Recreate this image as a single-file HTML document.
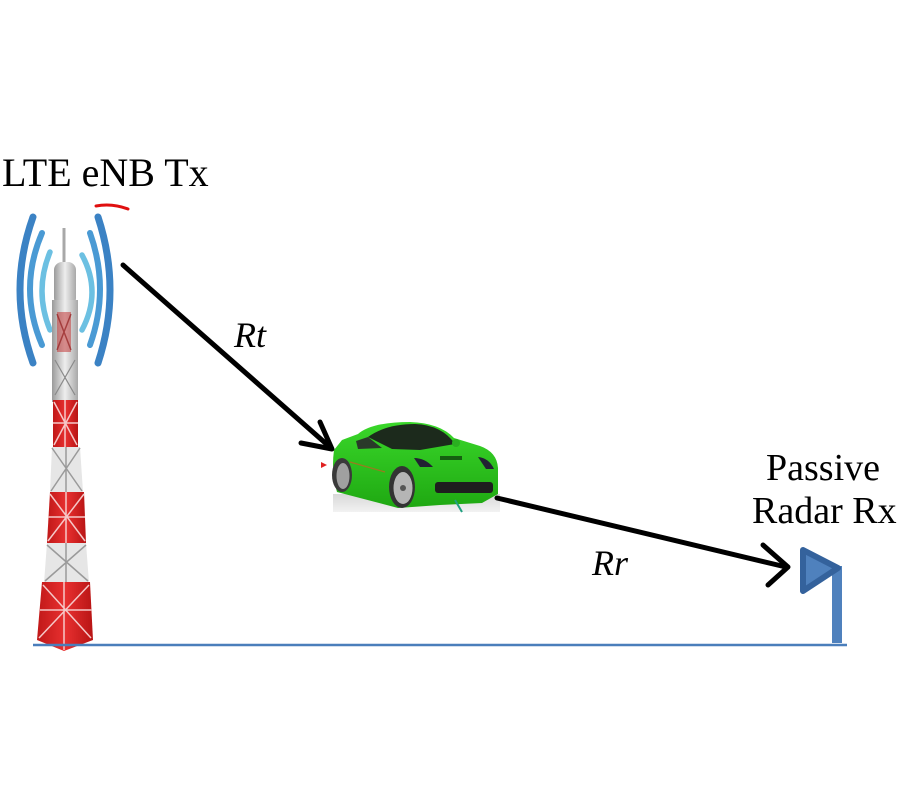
<!DOCTYPE html>
<html>
<head>
<meta charset="utf-8">
<style>
html,body{margin:0;padding:0;background:#fff;}
svg{display:block;}
text{font-family:"Liberation Serif","Times New Roman",serif;fill:#000;}
</style>
</head>
<body>
<svg width="900" height="800" viewBox="0 0 900 800" xmlns="http://www.w3.org/2000/svg">
<defs>
<linearGradient id="gray" x1="0" x2="1" y1="0" y2="0">
<stop offset="0" stop-color="#9a9a9a"/>
<stop offset="0.5" stop-color="#eeeeee"/>
<stop offset="1" stop-color="#a8a8a8"/>
</linearGradient>
<linearGradient id="red" x1="0" x2="1" y1="0" y2="0">
<stop offset="0" stop-color="#c01818"/>
<stop offset="0.5" stop-color="#e83030"/>
<stop offset="1" stop-color="#b81414"/>
</linearGradient>
<linearGradient id="shadow" x1="0" x2="0" y1="0" y2="1">
<stop offset="0" stop-color="#d8d8d8"/>
<stop offset="1" stop-color="#f2f2f2"/>
</linearGradient>
<linearGradient id="green" x1="0" x2="0" y1="0" y2="1">
<stop offset="0" stop-color="#3ad82a"/>
<stop offset="1" stop-color="#1fa812"/>
</linearGradient>
</defs>

<!-- Title text -->
<text x="2" y="186" font-size="40">LTE eNB Tx</text>

<!-- red swoosh -->
<path d="M96,206 Q112,203 128,209" stroke="#e01010" stroke-width="3" fill="none" stroke-linecap="round"/>

<!-- radio arcs -->
<g fill="none" stroke-linecap="round">
<path d="M33,217 Q7,290 33,363" stroke="#3b82c4" stroke-width="7"/>
<path d="M42,233 Q18,289 42,345" stroke="#4a9ad4" stroke-width="6"/>
<path d="M50,252 Q34,291 50,330" stroke="#6cc0e2" stroke-width="5.5"/>
<path d="M98,217 Q122,290 98,363" stroke="#3b82c4" stroke-width="7"/>
<path d="M90,233 Q110,289 90,345" stroke="#4a9ad4" stroke-width="6"/>
<path d="M82,255 Q102,292 82,330" stroke="#6cc0e2" stroke-width="5.5"/>
</g>

<!-- tower -->
<line x1="64" y1="228" x2="64" y2="266" stroke="#a8a8a8" stroke-width="3"/>
<rect x="54" y="262" width="22" height="44" rx="8" fill="url(#gray)"/>
<rect x="52" y="300" width="26" height="102" fill="url(#gray)"/>
<rect x="57" y="312" width="14" height="40" fill="#c23a3a" opacity="0.55"/>
<path d="M57,314 L71,350 M71,314 L57,350" stroke="#8a1010" stroke-width="1.5" opacity="0.6"/>
<path d="M55,360 L75,395 M75,360 L55,395" stroke="#8a8a8a" stroke-width="1.2"/>
<!-- red 1 -->
<rect x="53" y="400" width="25" height="47" fill="url(#red)"/>
<path d="M54,402 L77,445 M77,402 L54,445 M65,400 L65,447 M53,423 L78,423" stroke="#f5c8c8" stroke-width="1.5"/>
<!-- white 1 -->
<path d="M52,447 L80,447 L83,492 L50,492 Z" fill="#e6e6e6"/>
<path d="M52,448 L82,491 M80,448 L51,491 M66,447 L66,492" stroke="#9a9a9a" stroke-width="1.5"/>
<!-- red 2 -->
<path d="M50,492 L84,492 L86,543 L47,543 Z" fill="url(#red)"/>
<path d="M50,494 L85,541 M84,494 L48,541 M66,492 L66,543 M48,517 L85,517" stroke="#f5c8c8" stroke-width="1.5"/>
<!-- white 2 -->
<path d="M47,543 L86,543 L89,583 L44,583 Z" fill="#e6e6e6"/>
<path d="M47,545 L88,581 M86,545 L45,581 M66,543 L66,583" stroke="#9a9a9a" stroke-width="1.5"/>
<!-- red base -->
<path d="M42,582 L90,582 L93,640 L64,651 L37,640 Z" fill="url(#red)"/>
<path d="M43,585 L91,638 M89,585 L39,638 M64,582 L64,650 M40,610 L92,610" stroke="#f5c8c8" stroke-width="1.5"/>

<!-- ground line -->
<line x1="33" y1="645" x2="847" y2="645" stroke="#4a7ebb" stroke-width="2.5"/>

<!-- Rt arrow -->
<g stroke="#000" stroke-width="5" fill="none" stroke-linecap="round" stroke-linejoin="round">
<line x1="123" y1="265" x2="331" y2="448"/>
<polyline points="320,422 332,449 301,443"/>
</g>
<text x="234" y="347" font-size="36" font-style="italic">Rt</text>

<!-- car -->
<rect x="333" y="494" width="167" height="18" fill="url(#shadow)"/>
<path d="M334,450 L342,440 L358,434 Q372,422 410,422 Q440,423 454,438 L480,446 Q497,452 498,468 L498,494 L482,503 L440,505 L398,508 L360,498 L337,492 Q331,472 334,450 Z" fill="url(#green)"/>
<path d="M368,437 Q386,424 415,424 Q442,425 455,444 L420,450 L392,449 Z" fill="#1c2a1c"/>
<path d="M356,441 L368,437 L382,448 L358,449 Z" fill="#2a3a2a"/>
<ellipse cx="342" cy="475" rx="10" ry="17" fill="#3a3a3a"/>
<ellipse cx="343" cy="476" rx="6.5" ry="13" fill="#a0a0a0"/>
<ellipse cx="402" cy="487" rx="13" ry="21" fill="#333"/>
<ellipse cx="403" cy="488" rx="9.5" ry="16" fill="#b5b5b5"/>
<circle cx="403" cy="488" r="3" fill="#555"/>
<rect x="435" y="482" width="58" height="11" rx="3" fill="#1e1e1e"/>
<path d="M414,458 Q425,458 433,467 L420,467 Z" fill="#223"/>
<path d="M478,457 Q489,458 494,469 L486,469 Z" fill="#223"/>
<rect x="440" y="456" width="22" height="4" fill="#156010"/>
<circle cx="456" cy="443" r="4" fill="#2ab020"/>
<path d="M350,462 L385,472" stroke="#9a7a20" stroke-width="1.2"/>
<line x1="455" y1="500" x2="462" y2="512" stroke="#20a080" stroke-width="2"/>
<path d="M321,462 L327,465 L321,468 Z" fill="#e02020"/>

<!-- Rr arrow -->
<g stroke="#000" stroke-width="5" fill="none" stroke-linecap="round" stroke-linejoin="round">
<line x1="497" y1="498" x2="786" y2="567"/>
<polyline points="763,545 788,567 768,585"/>
</g>
<text x="592" y="575" font-size="36" font-style="italic">Rr</text>

<!-- receiver text -->
<text x="766" y="480" font-size="38">Passive</text>
<text x="752" y="523" font-size="38">Radar Rx</text>

<!-- receiver antenna -->
<rect x="832" y="566" width="10" height="77" fill="#4f81bd"/>
<path d="M803,550 L838,568 L803,591 Z" fill="#4f81bd" stroke="#34629c" stroke-width="6" stroke-linejoin="round"/>
</svg>
</body>
</html>
